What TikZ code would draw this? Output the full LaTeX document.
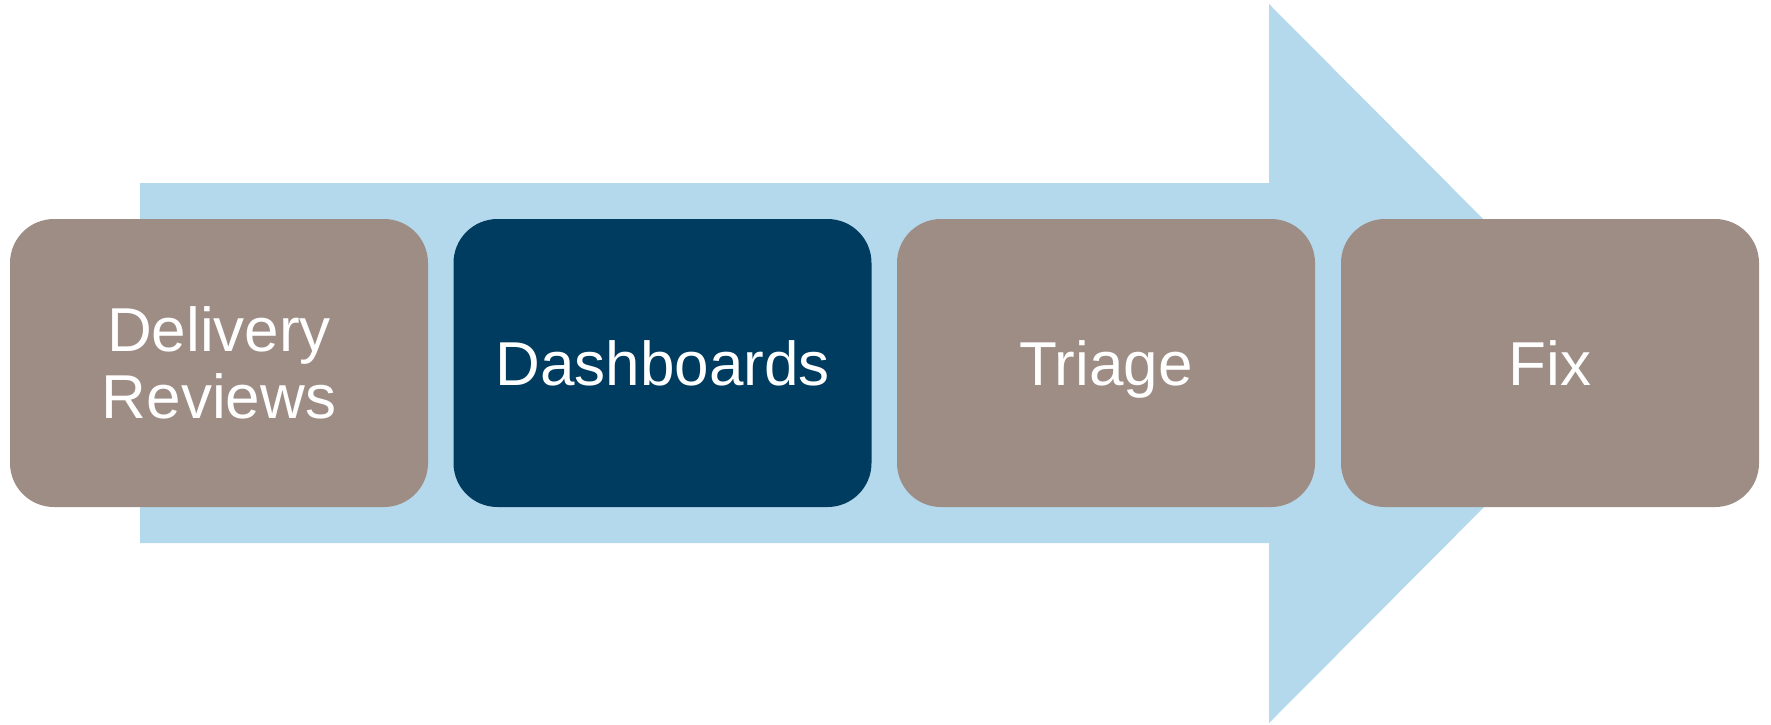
\documentclass[tikz,border=0pt]{standalone}
\usepackage{fontspec}
\setmainfont{Liberation Sans}
\definecolor{arrowblue}{RGB}{180,216,236}
\definecolor{taupe}{RGB}{158,141,132}
\definecolor{navy}{RGB}{0,60,95}
\begin{document}
\begin{tikzpicture}[x=1pt,y=-1pt,
  stage/.style={rounded corners=44pt, minimum width=418pt, minimum height=288pt,
    inner sep=0pt, text=white, font=\fontsize{62}{67}\selectfont, align=center,
    text height=44pt, text depth=0pt}]
\useasboundingbox (0,0) rectangle (1771,724);
\fill[arrowblue] (140,183) -- (1269,183) -- (1269,4) -- (1627,363.5) -- (1269,723) -- (1269,543) -- (140,543) -- cycle;
\node[stage, fill=taupe, text height=111pt] (b1) at (219,363) {Delivery\\Reviews};
\node[stage, fill=navy] (b2) at (662.5,363) {Dashboards};
\node[stage, fill=taupe] (b3) at (1106,363) {Triage};
\node[stage, fill=taupe] (b4) at (1550,363) {Fix};
\end{tikzpicture}
\end{document}
